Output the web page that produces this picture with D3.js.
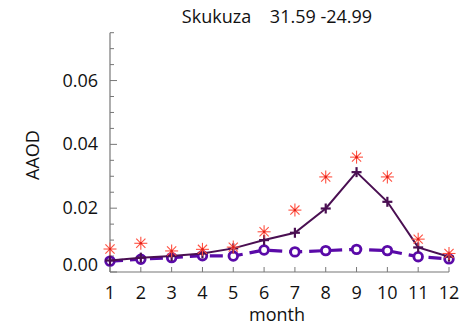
<!DOCTYPE html>
<html>
<head>
<meta charset="utf-8">
<script src="https://cdn.jsdelivr.net/npm/d3@7"></script>
<style>
  html, body { margin: 0; padding: 0; background: #fff; }
  svg { display: block; }
  text { font-family: "Open Sans", "DejaVu Sans", sans-serif; fill: #111; }
</style>
</head>
<body>
<svg id="chart" width="475" height="328"></svg>
<script>
// Monthly AAOD at Skukuza (31.59 E, -24.99 S)
const months = [1, 2, 3, 4, 5, 6, 7, 8, 9, 10, 11, 12];
const observed = [0.0072, 0.0090, 0.0066, 0.0071, 0.0078, 0.0126, 0.0194, 0.0298, 0.0360, 0.0298, 0.0103, 0.0058];
const modelA   = [0.0036, 0.0045, 0.0050, 0.0058, 0.0074, 0.0100, 0.0123, 0.0199, 0.0313, 0.0220, 0.0077, 0.0048];
const modelB   = [0.0034, 0.0040, 0.0045, 0.0051, 0.0050, 0.0069, 0.0063, 0.0067, 0.0071, 0.0067, 0.0048, 0.0041];
const yTicks = [0.00, 0.02, 0.04, 0.06];
const titleText = "Skukuza    31.59 -24.99";

const svg = d3.select("#chart");
const x = d3.scaleLinear().domain([1, 12]).range([110, 449]);
const y = d3.scaleLinear().domain([0, 0.075]).range([272, 32.7]);

// Title (spacing kept as written)
svg.append("text").attr("x", 277).attr("y", 23)
  .attr("text-anchor", "middle").attr("font-size", 18)
  .style("white-space", "pre").text(titleText);

// Y axis: line, major and minor ticks drawn inward
const yAxis = svg.append("g");
yAxis.append("line").attr("x1", x(1)).attr("x2", x(1))
  .attr("y1", y(0)).attr("y2", y(0.075)).attr("stroke", "#777").attr("stroke-width", 1.2);
const minor = d3.range(0, 0.0751, 0.005);
yAxis.selectAll("line.minor").data(minor).join("line")
  .attr("class", "minor")
  .attr("x1", x(1)).attr("x2", (d, i) => x(1) + (i % 4 === 0 ? 7 : 4))
  .attr("y1", d => y(d)).attr("y2", d => y(d))
  .attr("stroke", "#777").attr("stroke-width", 1);
yAxis.selectAll("text").data(yTicks).join("text")
  .attr("x", 98).attr("y", d => y(d) + (d === 0 ? -1 : 6))
  .attr("text-anchor", "end").attr("font-size", 18)
  .text(d3.format(".2f"));

// X axis: line and ticks drawn inward
const xAxis = svg.append("g");
xAxis.append("line").attr("x1", x(1)).attr("x2", x(12))
  .attr("y1", y(0)).attr("y2", y(0)).attr("stroke", "#777").attr("stroke-width", 1.2);
xAxis.selectAll("line.tick").data(months).join("line")
  .attr("class", "tick")
  .attr("x1", d => x(d)).attr("x2", d => x(d))
  .attr("y1", y(0)).attr("y2", y(0) - 5)
  .attr("stroke", "#777").attr("stroke-width", 1);
xAxis.selectAll("text").data(months).join("text")
  .attr("x", d => x(d)).attr("y", 299)
  .attr("text-anchor", "middle").attr("font-size", 18).text(d => d);

// Axis titles
svg.append("text").attr("x", 277).attr("y", 321)
  .attr("text-anchor", "middle").attr("font-size", 18).text("month");
svg.append("text").attr("transform", "translate(39,155) rotate(-90)")
  .attr("text-anchor", "middle").attr("font-size", 18).text("AAOD");

const line = d3.line().x((d, i) => x(months[i])).y(d => y(d));

// Model B: dashed purple line with open circles
svg.append("path").datum(modelB).attr("d", line)
  .attr("fill", "none").attr("stroke", "#5a0aa8").attr("stroke-width", 3.2)
  .attr("stroke-dasharray", "13,7");
svg.selectAll("circle.mb").data(modelB).join("circle")
  .attr("class", "mb")
  .attr("cx", (d, i) => x(months[i])).attr("cy", d => y(d)).attr("r", 4.3)
  .attr("fill", "#fff").attr("stroke", "#5a0aa8").attr("stroke-width", 2.8);

// Model A: solid dark plum line with plus markers
svg.append("path").datum(modelA).attr("d", line)
  .attr("fill", "none").attr("stroke", "#4a0f52").attr("stroke-width", 2);
const plus = svg.selectAll("g.ma").data(modelA).join("g")
  .attr("class", "ma")
  .attr("transform", (d, i) => `translate(${x(months[i])},${y(d)})`);
plus.append("line").attr("x1", -5).attr("x2", 5).attr("y1", 0).attr("y2", 0)
  .attr("stroke", "#4a0f52").attr("stroke-width", 2.2);
plus.append("line").attr("x1", 0).attr("x2", 0).attr("y1", -5).attr("y2", 5)
  .attr("stroke", "#4a0f52").attr("stroke-width", 2.2);

// Observations: red asterisks with a dot at the centre
const star = svg.selectAll("g.obs").data(observed).join("g")
  .attr("class", "obs")
  .attr("transform", (d, i) => `translate(${x(months[i])},${y(d)})`);
[0, 45, 90, 135].forEach(a => {
  const r = 6.5, t = a * Math.PI / 180;
  star.append("line")
    .attr("x1", -r * Math.cos(t)).attr("y1", -r * Math.sin(t))
    .attr("x2", r * Math.cos(t)).attr("y2", r * Math.sin(t))
    .attr("stroke", "#ff5040").attr("stroke-width", 1.1);
});
star.append("circle").attr("r", 1.3).attr("fill", "#e0201a");
</script>
</body>
</html>
